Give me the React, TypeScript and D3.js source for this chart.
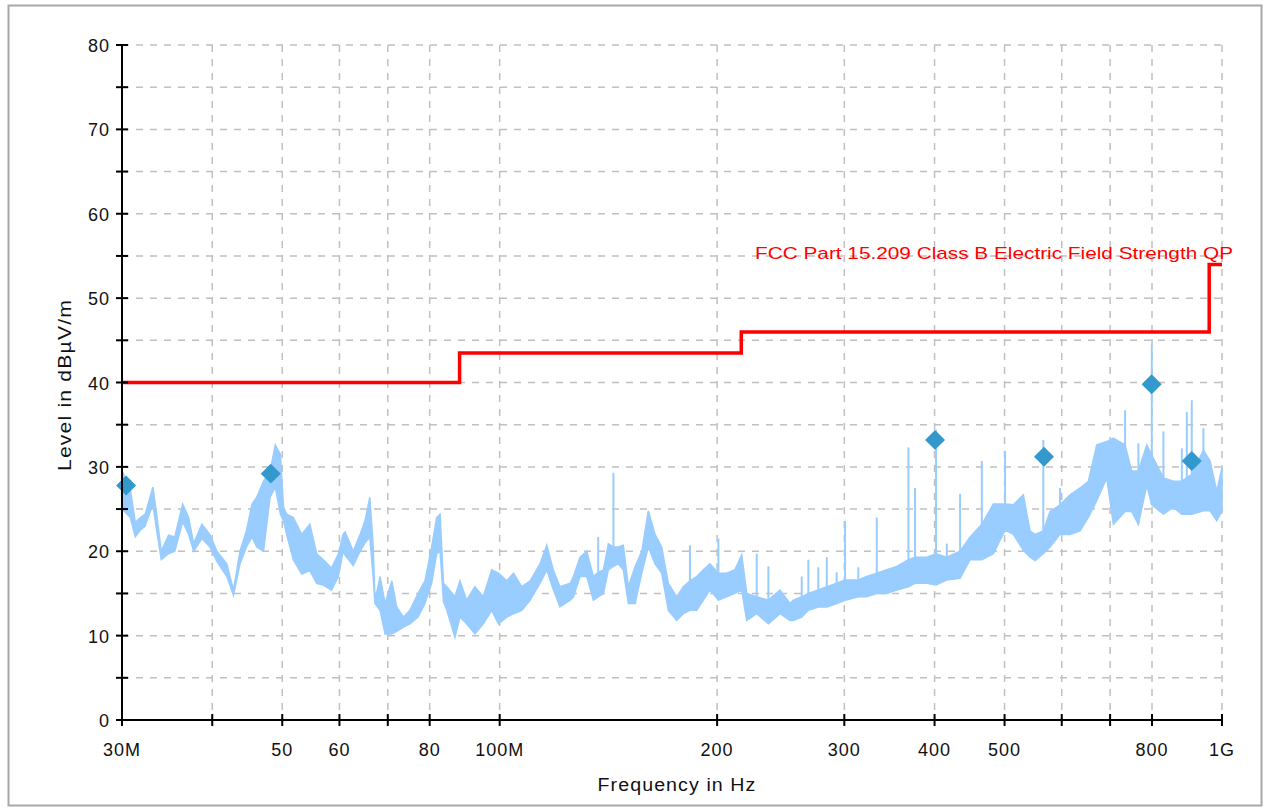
import React from 'react';
import * as d3 from 'd3';

// measured trace envelope (MHz, dBµV/m)
const traceFreq = [
  30.0, 30.8, 31.3, 31.8, 32.3, 33.1, 33.5, 34.0, 34.8, 35.5, 36.4, 37.1, 37.7, 38.7, 39.7, 40.6,
  41.9, 42.8, 43.7, 44.6, 45.4, 46.1, 47.1, 48.1, 48.9, 49.7, 50.2, 50.7, 51.8, 53.2, 54.6, 55.8,
  57.0, 58.5, 59.8, 60.7, 61.1, 62.7, 64.1, 65.1, 66.1, 66.8, 67.2, 68.3, 69.4, 70.9, 72.0, 73.6,
  75.1, 77.1, 78.8, 80.5, 81.8, 82.7, 83.6, 84.5, 86.7, 88.1, 90.0, 92.4, 94.9, 97.5, 99.6, 102.3,
  104.5, 107.3, 110.2, 113.7, 116.2, 118.6, 121.2, 125.2, 126.5, 129.2, 132.0, 134.8, 136.9, 139.2,
  141.4, 143.7, 146.0, 148.3, 150.7, 154.0, 157.3, 160.6, 164.1, 167.6, 171.2, 175.8, 179.6, 183.4,
  187.4, 191.4, 195.5, 200.8, 206.2, 211.7, 216.3, 219.8, 226.9, 235.5, 244.4, 252.3, 255.0, 261.9,
  267.5, 276.1, 283.7, 292.8, 300.7, 313.7, 322.2, 332.7, 343.4, 354.6, 368.0, 375.9, 390.2, 401.9,
  415.9, 433.9, 448.0, 465.0, 482.5, 500.8, 514.2, 530.9, 542.3, 551.1, 565.7, 578.0, 596.8, 616.1,
  636.1, 653.1, 670.8, 692.5, 707.3, 734.2, 749.9, 766.0, 786.7, 799.4, 829.6, 856.4, 879.8, 908.1,
  942.4, 962.8, 983.5, 1000,
];
const traceHigh = [
  29.5, 27.4, 23.4, 24, 24.4, 27.6, 24.4, 20, 21.9, 21.7, 25.6, 24, 20.9, 23.2, 22, 20,
  18.5, 15.4, 20, 22.4, 25.6, 26.4, 28.3, 29.5, 32.6, 31.5, 25.2, 24.4, 24, 22, 23.2, 19.7,
  19, 18, 19.7, 22, 22.3, 20, 22, 23.6, 26.4, 20.7, 14.2, 17, 13.8, 16.5, 13.4, 12.2,
  13, 15, 16.5, 20.5, 24, 24.4, 16.2, 15.8, 14.6, 16.5, 14.2, 15.8, 14.6, 17.8, 17.4, 16.5,
  17.4, 15.8, 16.5, 18.5, 20.7, 17.8, 15.8, 16.2, 17, 19.3, 20, 17, 17.5, 17.8,
  20.9, 20.5, 20.5, 20.7, 15.8, 18.2, 20, 24.8, 22, 20.5, 16.2, 14.6, 15.8, 16.5,
  17, 17.8, 18.5, 17.4, 17.4, 17.8, 19.6, 15, 14.6, 14.2, 15.4, 13.8, 14.2, 14.6,
  15, 15.4, 15.8, 16.2, 16.6, 16.6, 17, 17.4, 17.8, 18.2, 19, 19.3, 19.3, 19.7,
  19.3, 20, 21.7, 23.2, 25.6, 25.6, 25.5, 26.7, 22.4, 22, 22.4, 24.7, 25.5, 26.7,
  27.5, 28.3, 32.6, 33, 33.4, 32.6, 29.5, 29.5, 32.6, 31.4, 28.7, 28.3, 28.3, 29.1,
  32, 30.7, 27.1, 29.9,
];
const traceLow = [
  25, 24, 21.7, 22.5, 23, 25.6, 22.5, 19, 19.7, 20, 23.5, 22, 20, 21.5, 20.5, 18.8,
  17, 14.8, 18.5, 20.5, 21.7, 20.5, 20, 26.4, 27.6, 24.4, 23.6, 22, 19, 17.3, 17.7, 16.2,
  16, 15.4, 17, 20, 19.5, 18.3, 20, 21, 21.7, 17, 13.8, 13, 10.2, 10.2, 10.5, 11,
  11.4, 12.2, 13.8, 16.2, 19.7, 20, 14, 13, 9.8, 12.2, 11.4, 10.2, 11.4, 13, 11.4, 12.2,
  12.6, 13, 14.2, 16.2, 17.8, 15.5, 13.4, 14.2, 14.6, 17, 17, 14.2, 14.6, 15,
  17.8, 18.2, 18.5, 17.8, 13.8, 13.8, 17.4, 20.5, 18.5, 17.4, 13, 11.8, 12.6, 13,
  13, 14.2, 15.4, 14.2, 14.6, 15, 15.4, 11.8, 12.6, 11.4, 12.6, 11.8, 11.8, 12.2,
  13, 13.4, 13.4, 13.8, 14.2, 14.6, 14.6, 15, 15, 15.4, 15.8, 16.2, 16.2, 16,
  16.6, 16.8, 19, 19, 19.7, 22.5, 22, 20.1, 19.3, 18.9, 19.7, 20.5, 22, 22,
  22.4, 24, 26, 28.7, 23.2, 24.7, 24.7, 23.2, 27.8, 25.5, 24.4, 25.2, 24.4, 24.4,
  24.8, 24.8, 23.6, 24.8,
];

// narrow peaks standing out of the trace
const spikeFreq = [
  136.9, 143.7, 183.4, 200.8, 226.9, 235.5, 261.9, 267.5, 276.1, 283.7, 292.8, 300.7, 313.7, 332.7,
  368.0, 375.9, 401.9, 415.9, 433.9, 465.0, 500.8, 565.7, 596.8, 734.2, 766.0, 799.4, 829.6, 879.8,
  893.9, 908.1, 942.4,
];
const spikeLevel = [
  21.7, 29.3, 20.7, 21.5, 19.7, 18.2, 17, 19, 18.1, 19.3, 17.5, 23.6, 18.1, 24,
  32.3, 27.5, 34.4, 20.9, 26.8, 30.7, 31.9, 33.2, 27.5, 36.7, 32.8, 44.5, 34.2, 32.2,
  36.5, 37.9, 34.6,
];

// final measurement points
const markerFreq = [30.4, 48.2, 400.6, 567, 799, 908];
const markerLevel = [27.8, 29.2, 33.2, 31.2, 39.8, 30.7];

// FCC 15.209 class B QP limit
const limitFreq = [30, 88, 216, 960, 1000];
const limitLevel = [40, 43.5, 46, 54, 54];

const xTicks = [30, 40, 50, 60, 70, 80, 100, 200, 300, 400, 500, 600, 700, 800, 1000];
const xTickLabels: Record<number, string> = {
  30: '30M', 50: '50', 60: '60', 80: '80', 100: '100M', 200: '200',
  300: '300', 400: '400', 500: '500', 800: '800', 1000: '1G',
};
const yTicks = d3.range(0, 81, 5);
const yTickLabels = d3.range(0, 81, 10);

const FONT = 'Liberation Sans, Arial, sans-serif';

export default function App() {
  const x = d3.scaleLog().domain([30, 1000]).range([122, 1222]);
  const y = d3.scaleLinear().domain([0, 80]).range([720, 45]);

  const idx = d3.range(traceFreq.length);
  const band = d3
    .area<number>()
    .x(i => x(traceFreq[i]))
    .y0(i => y(traceLow[i]))
    .y1(i => y(traceHigh[i]));

  const limit = d3
    .line<number>()
    .x(i => x(limitFreq[i]))
    .y(i => y(limitLevel[i]))
    .curve(d3.curveStepAfter);

  // trace top under a spike, for the stem base
  const topAt = (f: number) => {
    const j = d3.bisectLeft(traceFreq, f);
    if (j <= 0) return traceHigh[0];
    if (j >= traceFreq.length) return traceHigh[traceFreq.length - 1];
    const t = (Math.log(f) - Math.log(traceFreq[j - 1])) /
      (Math.log(traceFreq[j]) - Math.log(traceFreq[j - 1]));
    return traceLow[j - 1] + t * (traceLow[j] - traceLow[j - 1]);
  };

  const diamond = d3.symbol().type(d3.symbolSquare).size(200)();

  return (
    <div style={{ position: 'absolute', left: 0, top: 0 }}>
      <svg width={1265} height={808} style={{ display: 'block', background: '#fff' }}>
        <rect x={8.5} y={5.5} width={1253} height={800} fill="none" stroke="#a8a8a8" strokeWidth={2} />

        <g stroke="#c0c0c0" strokeWidth={1.5} strokeDasharray="7,7">
          {yTicks.filter(t => t > 0).map(t => (
            <line key={'gy' + t} x1={122} x2={1222} y1={y(t)} y2={y(t)} />
          ))}
          {xTicks.filter(t => t > 30).map(t => (
            <line key={'gx' + t} x1={x(t)} x2={x(t)} y1={45} y2={720} />
          ))}
        </g>

        <path d={band(idx) || ''} fill="#99ccff" stroke="#99ccff" strokeWidth={1.5} />
        <g stroke="#99ccff" strokeWidth={2}>
          {spikeFreq.map((f, i) => (
            <line key={'s' + i} x1={x(f)} x2={x(f)} y1={y(spikeLevel[i])} y2={y(topAt(f))} />
          ))}
        </g>

        <path d={limit(d3.range(limitFreq.length)) || ''} fill="none" stroke="#ff0000" strokeWidth={3.5} />

        {markerFreq.map((f, i) => (
          <path
            key={'m' + i}
            d={diamond || ''}
            transform={`translate(${x(f)},${y(markerLevel[i])}) rotate(45)`}
            fill="#3399cc"
          />
        ))}

        <g stroke="#000" strokeWidth={2}>
          <line x1={122} x2={122} y1={45} y2={721} />
          <line x1={121} x2={1222} y1={720} y2={720} />
          {yTicks.map(t => (
            <line key={'ty' + t} x1={116} x2={128} y1={y(t)} y2={y(t)} />
          ))}
          {xTicks.map(t => (
            <line key={'tx' + t} x1={x(t)} x2={x(t)} y1={714} y2={726} />
          ))}
        </g>

        <g fontFamily={FONT} fontSize={18} fill="#111" letterSpacing={1}>
          {yTickLabels.map(t => (
            <text key={'ly' + t} x={110} y={y(t) + 7} textAnchor="end">{t}</text>
          ))}
          {xTicks.filter(t => xTickLabels[t]).map(t => (
            <text key={'lx' + t} x={x(t)} y={756} textAnchor="middle">{xTickLabels[t]}</text>
          ))}
          <text x={677} y={791} textAnchor="middle" textLength={159} lengthAdjust="spacingAndGlyphs">
            Frequency in Hz
          </text>
          <text
            transform="translate(71,385) rotate(-90)"
            textAnchor="middle"
            textLength={172}
            lengthAdjust="spacingAndGlyphs"
          >
            Level in dBµV/m
          </text>
        </g>

        <text
          x={755}
          y={259}
          fontFamily={FONT}
          fontSize={17}
          fill="#ff0000"
          textLength={478}
          lengthAdjust="spacingAndGlyphs"
        >
          FCC Part 15.209 Class B Electric Field Strength QP
        </text>
      </svg>
    </div>
  );
}
